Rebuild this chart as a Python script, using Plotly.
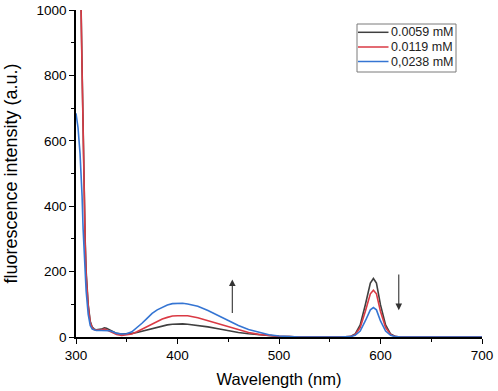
import plotly.graph_objects as go

wavelength = [300, 302, 304, 305, 306, 307, 308, 309, 310, 312, 314, 316, 318, 320,
              325, 328, 330, 333, 337, 340, 345, 350, 355, 360, 365, 370, 375, 380,
              385, 390, 395, 400, 405, 410, 420, 430, 440, 450, 460, 470, 480, 490,
              500, 510, 520, 560, 568, 570, 575, 580, 585, 590, 593, 596, 600, 605,
              610, 615, 620, 700]

conc_0059 = [1400, 1250, 1100, 1010, 820, 620, 430, 300, 200, 100, 48, 30, 24, 22,
             24, 28, 27, 22, 15, 11, 9, 9, 11, 14, 18, 22, 27, 31,
             34, 37, 39, 40, 40, 39, 36, 31, 25, 19, 14, 10, 7, 4,
             2, 1, 0, 0, 0, 1, 9, 37, 98, 165, 179, 165, 98, 37,
             9, 1, 0, 0]

conc_0119 = [1400, 1250, 1090, 1000, 810, 610, 420, 290, 190, 95, 45, 28, 22, 21,
             22, 24, 22, 18, 11, 8, 5, 6, 9, 16, 24, 33, 41, 49,
             55, 60, 64, 65, 66, 65, 59, 50, 40, 30, 21, 14, 8, 4,
             2, 1, 0, 0, 0, 1, 7, 29, 78, 132, 143, 132, 78, 29,
             7, 1, 0, 0]

conc_0238 = [684, 640, 560, 500, 430, 330, 250, 190, 140, 70, 35, 24, 21, 20,
             20, 20, 20, 19, 15, 11, 9, 10, 16, 28, 42, 57, 72, 83,
             91, 98, 102, 103, 103, 101, 94, 81, 65, 49, 35, 23, 14, 7,
             3, 1, 0, 0, 0, 1, 5, 18, 49, 83, 90, 83, 49, 18,
             5, 1, 0, 0]

series_names = ["0.0059 mM", "0.0119 mM", "0,0238 mM"]
series_colors = ["#404040", "#da3a44", "#3575d3"]

x_ticks = [300, 400, 500, 600, 700]
y_ticks = [0, 200, 400, 600, 800, 1000]

# arrows: (x, y_tail, y_head) in data units
arrow_up = (454, 69, 176)
arrow_down = (618, 196, 82)

FONT = "Liberation Sans, Arial, sans-serif"

W, H = 498, 391
ML, MR, MT, MB = 76, 16, 10, 54
PW, PH = W - ML - MR, H - MT - MB


def px_x(p):
    return (p - ML) / PW


def px_y(p):
    return (H - MB - p) / PH


fig = go.Figure()
for name, vals, col in zip(series_names, [conc_0059, conc_0119, conc_0238], series_colors):
    fig.add_trace(go.Scatter(x=wavelength, y=vals, mode="lines", name=name,
                             showlegend=False, hoverinfo="skip",
                             line=dict(color=col, width=1.6)))

for (xa, yt, yh) in [arrow_up, arrow_down]:
    fig.add_annotation(x=xa, y=yh, ax=xa, ay=yt, xref="x", yref="y",
                       axref="x", ayref="y", showarrow=True, text="",
                       arrowhead=2, arrowsize=1.2, arrowwidth=1.1,
                       arrowcolor="#333333")

# legend box (drawn manually for compact row spacing)
leg_left, leg_right, leg_top, leg_bottom = 357, 456, 24, 72
row_y = [32.3, 47, 61.5]
fig.add_shape(type="rect", xref="paper", yref="paper",
              x0=px_x(leg_left), x1=px_x(leg_right),
              y0=px_y(leg_bottom), y1=px_y(leg_top),
              line=dict(color="#7a7a7a", width=1), fillcolor="white",
              layer="above")
for name, col, ry in zip(series_names, series_colors, row_y):
    fig.add_shape(type="line", xref="paper", yref="paper",
                  x0=px_x(358), x1=px_x(388.5), y0=px_y(ry), y1=px_y(ry),
                  line=dict(color=col, width=1.5), layer="above")
    fig.add_annotation(x=px_x(389), y=px_y(ry), xref="paper", yref="paper",
                       text=name, showarrow=False, xanchor="left",
                       yanchor="middle",
                       font=dict(size=12.5, family=FONT, color="#222222"))

fig.update_layout(
    width=W, height=H,
    margin=dict(l=ML, r=MR, t=MT, b=MB, autoexpand=False),
    paper_bgcolor="white", plot_bgcolor="white",
    font=dict(family=FONT, color="black", size=13),
    showlegend=False,
    hovermode=False,
    xaxis=dict(range=[300, 700], tickvals=x_ticks,
               showgrid=False, zeroline=False, showline=True,
               linecolor="black", linewidth=1.5, ticks="outside",
               ticklen=5, tickwidth=1.3, tickcolor="black",
               tickfont=dict(size=13.5), layer="below traces",
               minor=dict(dtick=50, ticks="outside", ticklen=3,
                          tickwidth=1.2, tickcolor="black", showgrid=False),
               title=dict(text="Wavelength (nm)", font=dict(size=16.5),
                          standoff=11)),
    yaxis=dict(range=[0, 1000], tickvals=y_ticks,
               showgrid=False, zeroline=False, showline=True,
               linecolor="black", linewidth=1.5, ticks="outside",
               ticklen=5, tickwidth=1.3, tickcolor="black",
               tickfont=dict(size=13.5), layer="below traces",
               minor=dict(dtick=100, ticks="outside", ticklen=3,
                          tickwidth=1.2, tickcolor="black", showgrid=False),
               title=dict(text="fluorescence intensity (a.u.)",
                          font=dict(size=18), standoff=14)),
)

fig.write_html("out.html", config={"displayModeBar": False},
               post_script="document.body.style.margin='0px';document.body.style.overflow='hidden';")
